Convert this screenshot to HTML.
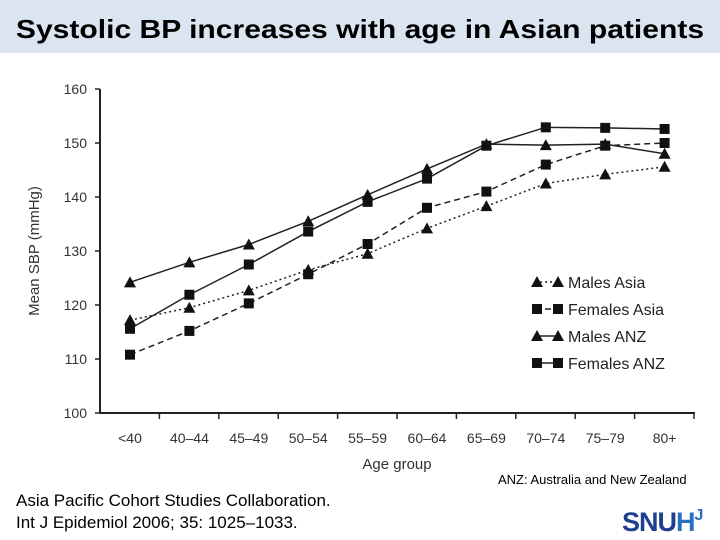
<!DOCTYPE html>
<html><head><meta charset="utf-8"><style>
body{margin:0;width:720px;height:540px;background:#fff;font-family:"Liberation Sans",Arial,sans-serif;overflow:hidden;position:relative}
#title{position:absolute;left:0;top:0;width:720px;height:53px;background:#dbe5f1;}
#title span{position:absolute;left:0;width:720px;top:0;font-size:26px;font-weight:bold;color:#000;text-align:center;line-height:58px;transform:scaleX(1.156);transform-origin:360px 0}
#cite{position:absolute;left:16px;top:490px;font-size:17px;line-height:22px}
#anz{position:absolute;left:498px;top:472px;font-size:13px}
#logo{position:absolute;left:622px;top:507px;font-size:27px;font-weight:bold;color:#1f3f8f;letter-spacing:-1px}
</style></head><body>
<div id="title"><span>Systolic BP increases with age in Asian patients</span></div>
<svg id="chart" width="720" height="540" style="position:absolute;left:0;top:0"></svg>
<div id="anz">ANZ: Australia and New Zealand</div>
<div id="cite">Asia Pacific Cohort Studies Collaboration.<br>Int J Epidemiol 2006; 35: 1025–1033.</div>
<div id="logo">SNU<span style="color:#2a6fc0">H</span><span style="font-size:16px;vertical-align:top;color:#2a6fc0">J</span></div>
<script>
const categories=["<40","40–44","45–49","50–54","55–59","60–64","65–69","70–74","75–79","80+"];
const yTicks=[100,110,120,130,140,150,160];
const malesAsia=[117.2,119.5,122.7,126.5,129.5,134.2,138.3,142.5,144.2,145.6];
const femalesAsia=[110.8,115.2,120.3,125.7,131.3,138.0,141.0,146.0,149.5,150.0];
const malesANZ=[124.2,127.9,131.2,135.5,140.4,145.2,149.8,149.6,149.8,148.0];
const femalesANZ=[115.6,121.9,127.5,133.6,139.1,143.4,149.5,152.9,152.8,152.6];
const svg=document.getElementById('chart');const NS='http://www.w3.org/2000/svg';
const x0=100,x1=695,yTop=89,yBot=413;
const xs=i=>130+i*59.4;const ys=v=>yBot-(v-100)/60*(yBot-yTop);
function mk(t,a){const e=document.createElementNS(NS,t);for(const k in a)e.setAttribute(k,a[k]);svg.appendChild(e);return e;}
let e=mk('line',{x1:x0,y1:yTop,x2:x0,y2:yBot,stroke:'#222','stroke-width':2});

e=mk('line',{x1:x0,y1:yBot,x2:x1,y2:yBot,stroke:'#222','stroke-width':2});

yTicks.forEach(v=>{mk('line',{x1:x0-5,x2:x0,y1:ys(v),y2:ys(v),stroke:'#222','stroke-width':1.5});
const t=mk('text',{x:x0-13,y:ys(v)+5,'text-anchor':'end','font-size':14,fill:'#333'});t.textContent=v;
});
categories.forEach((c,i)=>{const tx=x0+i*59.4+59.4;mk('line',{x1:tx,x2:tx,y1:yBot,y2:yBot+6,stroke:'#222','stroke-width':1.5});
const t=mk('text',{x:xs(i),y:yBot+30,'text-anchor':'middle','font-size':14,fill:'#333'});t.textContent=c;
});
let t=mk('text',{x:397,y:469,'text-anchor':'middle','font-size':15,fill:'#333'});t.textContent='Age group';

t=mk('text',{x:0,y:0,'text-anchor':'middle','font-size':15,fill:'#333',transform:'translate(39,251) rotate(-90)'});t.textContent='Mean SBP (mmHg)';

function marker(x,y,shape,name){let m;if(shape==='tri')m=mk('polygon',{points:`${x},${y-6} ${x-6},${y+5} ${x+6},${y+5}`,fill:'#111'});
else m=mk('rect',{x:x-5,y:y-5,width:10,height:10,fill:'#111'});}
const series=[[malesAsia,'tri','2,3','males-asia'],[femalesAsia,'sq','6,4','females-asia'],[malesANZ,'tri','','males-anz'],[femalesANZ,'sq','','females-anz']];
series.forEach(([d,sh,da,nm])=>{const l=mk('polyline',{points:d.map((v,i)=>xs(i)+','+ys(v)).join(' '),fill:'none',stroke:'#222','stroke-width':1.5,'stroke-dasharray':da});
d.forEach((v,i)=>marker(xs(i),ys(v),sh,nm+'-point'));});
const labels=['Males Asia','Females Asia','Males ANZ','Females ANZ'];
series.forEach(([d,sh,da,nm],k)=>{const y=282+k*27;mk('line',{x1:535,x2:558,y1:y,y2:y,stroke:'#222','stroke-width':1.5,'stroke-dasharray':da});
marker(537,y,sh,'legend-marker');marker(558,y,sh,'legend-marker');
const tt=mk('text',{x:568,y:y+6,'font-size':16,fill:'#222'});tt.textContent=labels[k];});
</script>
</body></html>
